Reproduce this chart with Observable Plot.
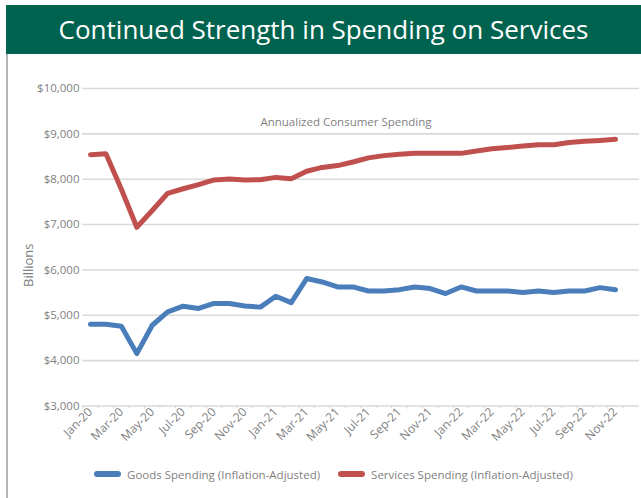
<!DOCTYPE html>
<html>
<head>
<meta charset="utf-8">
<script src="https://cdn.jsdelivr.net/npm/d3@7"></script>
<script src="https://cdn.jsdelivr.net/npm/@observablehq/plot@0.6"></script>
<style>
  html, body { margin: 0; padding: 0; background: #fff; }
  #wrap { position: relative; width: 641px; height: 498px; overflow: hidden; background: #fff; }
  #border { position: absolute; left: 6px; top: 54px; width: 2px; height: 444px; background: #b4b4b4; }
  #header { position: absolute; left: 6px; top: 5px; width: 635px; height: 49px; background: #00634f;
            color: #fff; font-family: "Open Sans", sans-serif; font-size: 26px; line-height: 49px; text-align: center; }
  #chart { position: absolute; left: 0; top: 54px; }
  #legend { position: absolute; left: 13px; top: 463px; width: 641px; height: 22px; display: flex; justify-content: center;
            align-items: center; font-family: "Open Sans", sans-serif; font-size: 11.5px; color: #7f7f7f; }
  .item { display: flex; align-items: center; margin: 0 9px; }
  .sw { width: 27px; height: 6px; border-radius: 3px; margin-right: 6px; }
</style>
</head>
<body>
<div id="wrap">
  <div id="header"></div>
  <div id="border"></div>
  <div id="chart"></div>
  <div id="legend"></div>
</div>
<script>
const titleText = "Continued Strength in Spending on Services";
const annotationText = "Annualized Consumer Spending";
const yLabel = "Billions";
const seriesNames = ["Goods Spending (Inflation-Adjusted)", "Services Spending (Inflation-Adjusted)"];
const seriesColors = ["#4a7ebb", "#c0504d"];

const months = ["Jan-20","Feb-20","Mar-20","Apr-20","May-20","Jun-20","Jul-20","Aug-20","Sep-20","Oct-20","Nov-20","Dec-20",
                "Jan-21","Feb-21","Mar-21","Apr-21","May-21","Jun-21","Jul-21","Aug-21","Sep-21","Oct-21","Nov-21","Dec-21",
                "Jan-22","Feb-22","Mar-22","Apr-22","May-22","Jun-22","Jul-22","Aug-22","Sep-22","Oct-22","Nov-22"];

const goods = [4800, 4800, 4760, 4155, 4780, 5075, 5200, 5150, 5260, 5260, 5205, 5180,
               5420, 5280, 5810, 5735, 5625, 5625, 5535, 5535, 5565, 5625, 5590, 5480,
               5625, 5535, 5535, 5535, 5500, 5535, 5500, 5535, 5535, 5610, 5565];

const services = [8540, 8560, 7780, 6940, 7310, 7690, 7790, 7880, 7985, 8005, 7985, 7990,
                  8040, 8010, 8175, 8260, 8300, 8380, 8470, 8520, 8550, 8570, 8570, 8570,
                  8570, 8620, 8670, 8700, 8730, 8760, 8760, 8810, 8835, 8855, 8880];

const yTicks = [3000, 4000, 5000, 6000, 7000, 8000, 9000, 10000];

document.getElementById("header").textContent = titleText;

const data = [];
months.forEach((m, i) => {
  data.push({i, month: m, value: goods[i], series: seriesNames[0]});
});
months.forEach((m, i) => {
  data.push({i, month: m, value: services[i], series: seriesNames[1]});
});

const labelIdx = months.map((m, i) => i).filter(i => i % 2 === 0);
const boundaries = months.map((m, i) => i - 0.5).concat([months.length - 0.5]);
const fmt = d3.format(",");
const font = "'Open Sans', sans-serif";

const chart = Plot.plot({
  width: 641,
  height: 408,
  marginTop: 34,
  marginBottom: 56.5,
  marginLeft: 82,
  marginRight: 2,
  style: {fontFamily: font, fontSize: "11px", color: "#7f7f7f", background: "transparent", overflow: "visible"},
  x: {type: "linear", domain: [0, months.length - 1], range: [90, 615]},
  y: {domain: [3000, 10000]},
  color: {domain: seriesNames, range: seriesColors},
  marks: [
    Plot.gridY(yTicks, {stroke: "#d9d9d9", strokeOpacity: 1, strokeWidth: 1.6}),
    Plot.axisY(yTicks, {tickSize: 0, tickPadding: 3, tickFormat: d => "$" + fmt(d), fontSize: 11.5, label: null}),
    Plot.axisX(boundaries, {tickSize: 3, stroke: "#d9d9d9", tickFormat: () => "", label: null}),
    Plot.axisX(labelIdx, {tickSize: 0, tickPadding: 4, tickRotate: -45, tickFormat: i => months[i], fontSize: 12, label: null}),
    Plot.line(data, {x: "i", y: "value", z: "series", stroke: "series", strokeWidth: 5,
                     strokeLinejoin: "round", strokeLinecap: "round"}),
    Plot.text([annotationText], {frameAnchor: "top", dx: -15, dy: 29, fontSize: 11.5, fill: "#7f7f7f"}),
    Plot.text([yLabel], {frameAnchor: "left", textAnchor: "middle", rotate: -90, dx: -54, dy: 18, fontSize: 13, fill: "#7f7f7f"})
  ]
});
document.getElementById("chart").appendChild(chart);

const legend = document.getElementById("legend");
seriesNames.forEach((name, k) => {
  const item = document.createElement("div");
  item.className = "item";
  const sw = document.createElement("div");
  sw.className = "sw";
  sw.style.background = seriesColors[k];
  const t = document.createElement("span");
  t.textContent = name;
  item.appendChild(sw);
  item.appendChild(t);
  legend.appendChild(item);
});
</script>
</body>
</html>
